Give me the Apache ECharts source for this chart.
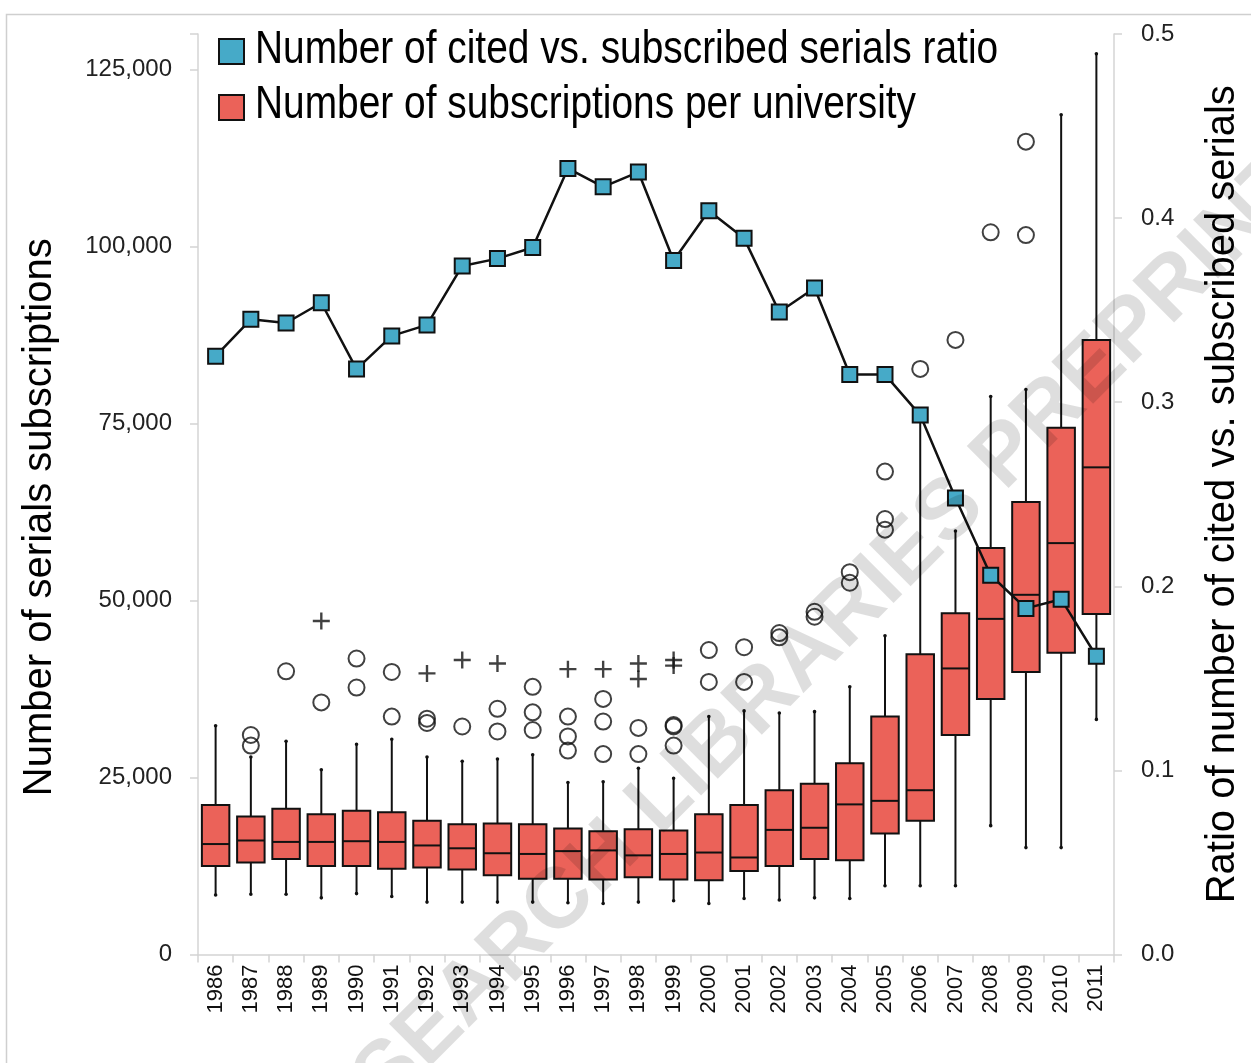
<!DOCTYPE html>
<html>
<head>
<meta charset="utf-8">
<script src="https://cdn.jsdelivr.net/npm/echarts@6/dist/echarts.min.js"></script>
<style>
  html, body { margin: 0; padding: 0; background: #ffffff; }
  #chart { width: 1251px; height: 1063px; }
</style>
</head>
<body>
<div id="chart"></div>
<script>
// Survey years
const years = ['1986','1987','1988','1989','1990','1991','1992','1993','1994','1995','1996','1997','1998',
               '1999','2000','2001','2002','2003','2004','2005','2006','2007','2008','2009','2010','2011'];

// Ratio of cited vs. subscribed serials (right axis)
const citedRatio = [0.325, 0.345, 0.343, 0.354, 0.318, 0.336, 0.342, 0.374, 0.378, 0.384, 0.427, 0.417, 0.425,
                    0.377, 0.404, 0.389, 0.349, 0.362, 0.315, 0.315, 0.293, 0.248, 0.206, 0.188, 0.193, 0.162];

// Subscriptions per university: five-number summaries (left axis)
const whiskerLow  = [8400, 8500, 8500, 8000, 8600, 8200, 7400, 7400, 7400, 7400, 7300, 7200, 7400,
                     7600, 7200, 7900, 7700, 8000, 7900, 9700, 9700, 9700, 18200, 15100, 15100, 33200];
const quartile1   = [12500, 13000, 13500, 12500, 12500, 12100, 12300, 12000, 11200, 10700, 10700, 10600, 10900,
                     10600, 10500, 11800, 12500, 13500, 13300, 17100, 18900, 31000, 36100, 39900, 42600, 48100];
const medians     = [15600, 16100, 15900, 15900, 16000, 15900, 15400, 15000, 14300, 14200, 14600, 14700, 14000,
                     14200, 14400, 13700, 17600, 17900, 21200, 21700, 23200, 40400, 47400, 50800, 58100, 68800];
const quartile3   = [21100, 19500, 20600, 19800, 20300, 20100, 18900, 18400, 18500, 18400, 17800, 17400, 17700,
                     17500, 19800, 21100, 23200, 24100, 27000, 33600, 42400, 48200, 57400, 63900, 74400, 86800];
const whiskerHigh = [32300, 27900, 30100, 26100, 29700, 30400, 27900, 27300, 27600, 28200, 24300, 24400, 26300,
                     24900, 33600, 34400, 34100, 34300, 37800, 45000, 75800, 59800, 78800, 79800, 118600, 127200];

// Outliers: [year, subscriptions]
const circleOutliers = [
  ['1987', 31000], ['1987', 29500], ['1988', 40000], ['1989', 35600], ['1990', 41800], ['1990', 37700],
  ['1991', 39900], ['1991', 33600], ['1992', 33300], ['1992', 32700], ['1993', 32200], ['1994', 34700],
  ['1994', 31500], ['1995', 37800], ['1995', 34200], ['1995', 31700], ['1996', 33600], ['1996', 30800],
  ['1996', 28800], ['1997', 36100], ['1997', 32900], ['1997', 28300], ['1998', 32000], ['1998', 28300],
  ['1999', 32400], ['1999', 32200], ['1999', 29500], ['2000', 43000], ['2000', 38500], ['2001', 43400],
  ['2001', 38500], ['2002', 45400], ['2002', 44800], ['2003', 48400], ['2003', 47700], ['2004', 54000],
  ['2004', 52500], ['2005', 68200], ['2005', 61500], ['2005', 60000], ['2006', 82700], ['2007', 86800],
  ['2008', 102000], ['2009', 114800], ['2009', 101600]
];
// Extreme outliers
const plusOutliers = [
  ['1989', 47100], ['1992', 39700], ['1993', 41600], ['1994', 41100], ['1996', 40300], ['1997', 40300],
  ['1998', 41100], ['1998', 38900], ['1999', 41600], ['1999', 40800]
];

const ratioName = 'Number of cited vs. subscribed serials ratio';
const subsName = 'Number of subscriptions per university';

const SANS = '"Liberation Sans", Arial, sans-serif';
const BOX_RED = '#EB6259';
const MARK_BLUE = '#46AAC8';
const AXIS_GREY = '#d4d4d4';

const boxRows = years.map((y, i) => [i, whiskerLow[i], quartile1[i], medians[i], quartile3[i], whiskerHigh[i]]);
const PLUS = 'path://M43,0H57V43H100V57H57V100H43V57H0V43H43Z';

function renderBox(params, api) {
  const i = api.value(0);
  const pLow = api.coord([i, api.value(1)]);
  const pQ1 = api.coord([i, api.value(2)]);
  const pMed = api.coord([i, api.value(3)]);
  const pQ3 = api.coord([i, api.value(4)]);
  const pHigh = api.coord([i, api.value(5)]);
  const cx = pMed[0];
  const bw = api.size([1, 0])[0] * 0.78;
  const ink = { stroke: '#111', lineWidth: 2 };
  return {
    type: 'group',
    children: [
      { type: 'line', shape: { x1: cx, y1: pHigh[1], x2: cx, y2: pQ3[1] }, style: ink },
      { type: 'line', shape: { x1: cx, y1: pQ1[1], x2: cx, y2: pLow[1] }, style: ink },
      { type: 'circle', shape: { cx: cx, cy: pHigh[1], r: 1.8 }, style: { fill: '#111' } },
      { type: 'circle', shape: { cx: cx, cy: pLow[1], r: 1.8 }, style: { fill: '#111' } },
      { type: 'rect', shape: { x: cx - bw / 2, y: pQ3[1], width: bw, height: pQ1[1] - pQ3[1] },
        style: { fill: BOX_RED, stroke: '#111', lineWidth: 2 } },
      { type: 'line', shape: { x1: cx - bw / 2, y1: pMed[1], x2: cx + bw / 2, y2: pMed[1] }, style: ink }
    ]
  };
}

// Condensed legend caption next to a legend swatch
function legendCaption(text, y) {
  return {
    type: 'text',
    silent: true,
    x: 255, y: y,
    scaleX: 0.845, scaleY: 1,
    style: {
      text: text,
      font: '46px ' + SANS,
      fill: '#000',
      textAlign: 'left',
      textVerticalAlign: 'middle'
    },
    z: 10
  };
}

const chart = echarts.init(document.getElementById('chart'), null, { renderer: 'canvas' });

chart.setOption({
  backgroundColor: '#ffffff',
  animation: false,
  grid: { left: 198, right: 135, top: 34, bottom: 108.5, containLabel: false },
  legend: {
    orient: 'vertical',
    left: 218,
    top: 38,
    itemWidth: 25,
    itemHeight: 25,
    itemGap: 29,
    padding: 0,
    formatter: () => '',
    textStyle: { fontSize: 10, padding: 0 },
    data: [
      { name: ratioName, icon: 'rect', itemStyle: { color: MARK_BLUE, borderColor: '#111', borderWidth: 2 } },
      { name: subsName, icon: 'rect', itemStyle: { color: BOX_RED, borderColor: '#111', borderWidth: 2 } }
    ]
  },
  xAxis: {
    type: 'category',
    data: years,
    boundaryGap: true,
    axisLine: { show: true, lineStyle: { color: AXIS_GREY, width: 1.5 } },
    axisTick: { show: true, length: 8, lineStyle: { color: AXIS_GREY, width: 1.5 } },
    axisLabel: { rotate: 90, interval: 0, margin: 10, fontFamily: SANS, fontSize: 22, color: '#111' },
    splitLine: { show: false }
  },
  yAxis: [
    {
      type: 'value',
      position: 'left',
      min: 0, max: 130000, interval: 25000,
      name: 'Number of serials subscriptions',
      nameLocation: 'middle',
      nameGap: 138,
      nameTextStyle: { fontFamily: SANS, fontSize: 40, color: '#000', padding: [0, 46, 0, 0] },
      axisLine: { show: true, lineStyle: { color: AXIS_GREY, width: 1.5 } },
      axisTick: { show: true, length: 8, lineStyle: { color: AXIS_GREY, width: 1.5 } },
      axisLabel: {
        margin: 26, fontFamily: SANS, fontSize: 24, color: '#222',
        formatter: v => (v % 25000 === 0 ? v.toLocaleString('en-US') : '')
      },
      splitLine: { show: false }
    },
    {
      type: 'value',
      position: 'right',
      min: 0, max: 0.5, interval: 0.1,
      name: 'Ratio of number of cited vs. subscribed serials',
      nameLocation: 'middle',
      nameGap: 89,
      nameTextStyle: { fontFamily: SANS, fontSize: 40, color: '#000' },
      axisLine: { show: true, lineStyle: { color: AXIS_GREY, width: 1.5 } },
      axisTick: { show: true, length: 8, lineStyle: { color: AXIS_GREY, width: 1.5 } },
      axisLabel: { margin: 27, fontFamily: SANS, fontSize: 24, color: '#222', formatter: v => v.toFixed(1) },
      splitLine: { show: false }
    }
  ],
  series: [
    {
      name: subsName,
      type: 'custom',
      xAxisIndex: 0, yAxisIndex: 0,
      renderItem: renderBox,
      encode: { x: 0, y: [1, 2, 3, 4, 5] },
      itemStyle: { color: BOX_RED },
      data: boxRows,
      z: 2
    },
    {
      name: 'outliers',
      type: 'scatter',
      yAxisIndex: 0,
      symbol: 'circle',
      symbolSize: 16,
      itemStyle: { color: 'rgba(0,0,0,0)', borderColor: '#111', borderWidth: 2 },
      data: circleOutliers,
      z: 3
    },
    {
      name: 'extreme outliers',
      type: 'scatter',
      yAxisIndex: 0,
      symbol: PLUS,
      symbolSize: 17,
      itemStyle: { color: '#111' },
      data: plusOutliers,
      z: 3
    },
    {
      name: ratioName,
      type: 'line',
      yAxisIndex: 1,
      data: citedRatio,
      symbol: 'rect',
      symbolSize: 15,
      lineStyle: { color: '#111', width: 2.5 },
      itemStyle: { color: MARK_BLUE, borderColor: '#111', borderWidth: 2 },
      z: 5
    }
  ],
  graphic: [
    {
      type: 'rect',
      silent: true,
      shape: { x: 6.5, y: 14.5, width: 1400, height: 1200 },
      style: { fill: 'none', stroke: '#cfcfcf', lineWidth: 1.5 },
      z: 0
    },
    legendCaption(ratioName, 50),
    legendCaption(subsName, 105),
    {
      type: 'text',
      silent: true,
      x: 790, y: 673,
      rotation: 45 * Math.PI / 180,
      style: {
        text: 'RESEARCH LIBRARIES PREPRINT',
        font: 'bold 86px "Liberation Sans", Arial, sans-serif',
        fill: 'rgba(0,0,0,0.13)',
        textAlign: 'center',
        textVerticalAlign: 'middle'
      },
      z: 100
    }
  ]
});
</script>
</body>
</html>
